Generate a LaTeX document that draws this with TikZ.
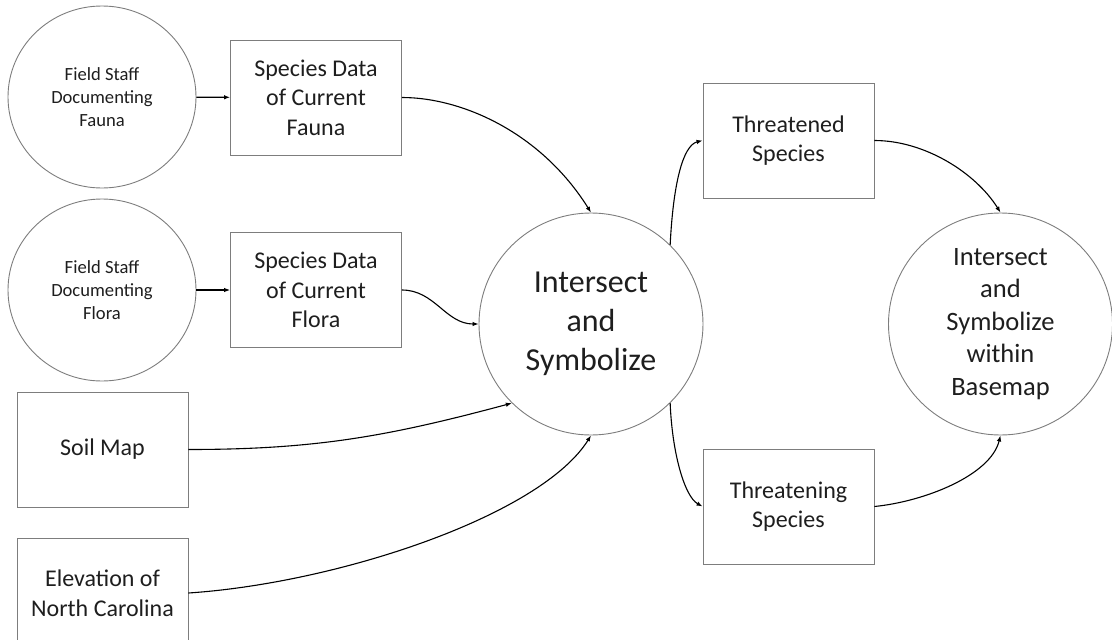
\documentclass[tikz,border=0pt]{standalone}
\usepackage{fontspec}
\setmainfont{Carlito}
\usetikzlibrary{shapes.geometric,arrows.meta}
\begin{document}
\begin{tikzpicture}[x=1pt,y=-1pt,
  outl/.style={draw={rgb,255:red,125;green,125;blue,125}, line width=0.9pt,
    text={rgb,255:red,30;green,30;blue,30}, align=center, inner sep=0pt},
  boxnode/.style={outl, rectangle, minimum width=171pt, minimum height=115pt,
    font=\fontsize{24}{29.5}\selectfont},
  smallcirc/.style={outl, ellipse, minimum width=188pt, minimum height=182pt,
    font=\fontsize{18.6}{23}\selectfont},
  bigcirc/.style={outl, ellipse, minimum width=224pt, minimum height=222pt},
  conn/.style={-{Latex[length=6pt,width=4.5pt]}, line width=1.1pt, black}]
\useasboundingbox (0,0) rectangle (1112,640);
\clip (0,0) rectangle (1112,640);
% nodes
\node[smallcirc] (fcf) at (102,97) {Field Staff\\Documenting\\Fauna};
\node[boxnode] (sdf) at (316,97.5) {Species Data\\of Current\\Fauna};
\node[smallcirc] (fcl) at (102,290) {Field Staff\\Documenting\\Flora};
\node[boxnode] (sdl) at (316,290) {Species Data\\of Current\\Flora};
\node[boxnode] (soil) at (102.5,449.5) {Soil Map};
\node[boxnode, minimum height=110pt] (elev) at (102.5,593) {Elevation of\\North Carolina};
\node[bigcirc, font=\fontsize{32}{39}\selectfont] (main) at (591,324) {Intersect\\and\\Symbolize};
\node[boxnode] (ted) at (788.5,140.5) {Threatened\\Species};
\node[boxnode] (ting) at (788.5,506.5) {Threatening\\Species};
\node[bigcirc, font=\fontsize{26.5}{32.6}\selectfont] (fin) at (1000.5,324) {Intersect\\and\\Symbolize\\within\\Basemap};
% connectors
\draw[conn] (fcf) -- (sdf);
\draw[conn] (fcl) -- (sdl);
\draw[conn] (sdf.east) .. controls +(60,0) and +(-50,-80) .. (main.north);
\draw[conn] (sdl.east) to[out=0,in=180] (main.west);
\draw[conn] (soil.east) to[out=0,in=195] (main.225);
\draw[conn] (elev.east) .. controls +(150,-10) and +(-50,80) .. (main.south);
\draw[conn] (main.45) .. controls +(3,-60) and +(-20,5) .. (ted.west);
\draw[conn] (main.-45) .. controls +(2,50) and +(-18,-10) .. (ting.west);
\draw[conn] (ted.east) .. controls +(50,0) and +(-25,-40) .. (fin.north);
\draw[conn] (ting.east) .. controls +(50,-5) and +(-10,40) .. (fin.south);
\end{tikzpicture}
\end{document}
